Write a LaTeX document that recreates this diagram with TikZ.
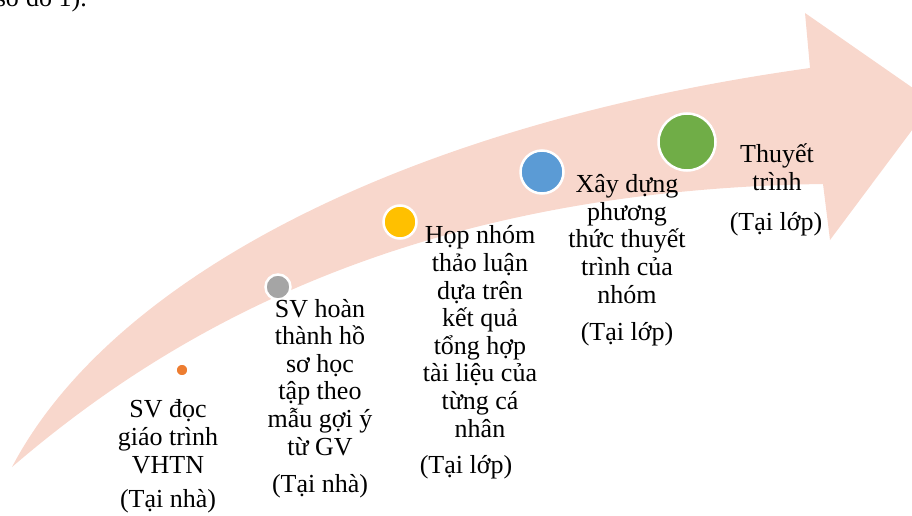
\documentclass[tikz,border=0pt]{standalone}
\usepackage{fontspec}
\setmainfont{Liberation Serif}
\definecolor{band}{HTML}{F8D7CC}
\definecolor{dotorange}{HTML}{ED7D31}
\definecolor{dotgrey}{HTML}{A5A5A5}
\definecolor{dotyellow}{HTML}{FFC000}
\definecolor{dotblue}{HTML}{5B9BD5}
\definecolor{dotgreen}{HTML}{70AD47}
\begin{document}
\begin{tikzpicture}[x=1pt,y=-1pt,
  dot/.style={circle,draw=white,line width=2.5pt,inner sep=0pt},
  lbl/.style={align=center,inner sep=0pt,anchor=base,font=\fontsize{26}{27.6}\selectfont},
  place/.style={inner sep=0pt,anchor=base,font=\fontsize{26}{27.6}\selectfont}]
\useasboundingbox (0,0) rectangle (912,516);
\clip (0,0) rectangle (912,516);
% curved arrow
\fill[band] (12,467) .. controls (110,280) and (400,125) .. (810,68)
  -- (805,13) -- (933,102) -- (830,240) -- (823,184)
  .. controls (400,190) and (160,340) .. (12,467) -- cycle;
% cut-off text at top
\node[place,anchor=base east] (top) at (87,7) {sơ đồ 1).};
% dots
\node[dot,fill=dotorange,minimum size=13pt] (d1) at (182,370) {};
\node[dot,fill=dotgrey,minimum size=25pt] (d2) at (278,287) {};
\node[dot,fill=dotyellow,minimum size=33pt] (d3) at (400,222) {};
\node[dot,fill=dotblue,minimum size=43pt] (d4) at (542,172) {};
\node[dot,fill=dotgreen,minimum size=57pt] (d5) at (687,142) {};
% labels
\node[lbl] (t1) at (168,473) {SV đọc\\giáo trình\\VHTN};
\node[place] (p1) at (168,507) {(Tại nhà)};
\node[lbl] (t2) at (320,455) {SV hoàn\\thành hồ\\sơ học\\tập theo\\mẫu gợi ý\\từ GV};
\node[place] (p2) at (320,492) {(Tại nhà)};
\node[lbl] (t3) at (480,437) {Họp nhóm\\thảo luận\\dựa trên\\kết quả\\tổng hợp\\tài liệu của\\từng cá\\nhân};
\node[place] (p3) at (466,473) {(Tại lớp)};
\node[lbl] (t4) at (627,303) {Xây dựng\\phương\\thức thuyết\\trình của\\nhóm};
\node[place] (p4) at (627,340) {(Tại lớp)};
\node[lbl] (t5) at (777,190) {Thuyết\\trình};
\node[place] (p5) at (776,230) {(Tại lớp)};
\end{tikzpicture}
\end{document}
